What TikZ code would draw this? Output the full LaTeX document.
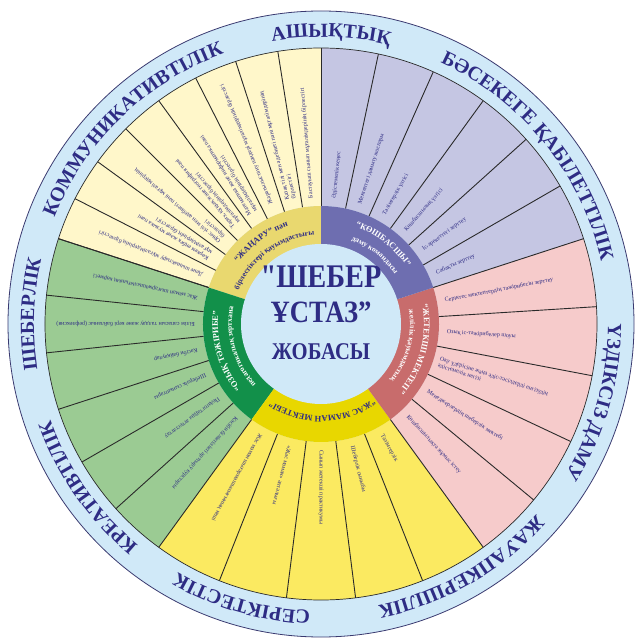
\documentclass[tikz,border=0pt]{standalone}
\usepackage{fontspec}
\setmainfont{Liberation Serif}
\newfontfamily\centfont{Liberation Serif}[Ligatures=TeXOff, FakeStretch=0.86]
\usetikzlibrary{decorations.text}
\definecolor{ringblue}{HTML}{D0E9F8}
\definecolor{txtblue}{HTML}{2E2C84}
\definecolor{creamc}{HTML}{FFF7CA}
\definecolor{greenc}{HTML}{9BCB93}
\definecolor{yellowc}{HTML}{FBEA61}
\definecolor{pinkc}{HTML}{F6CBCB}
\definecolor{purplec}{HTML}{C5C6E3}
\definecolor{goldr}{HTML}{E9D86F}
\definecolor{purpr}{HTML}{6E6EB0}
\definecolor{redr}{HTML}{C86C6C}
\definecolor{yelr}{HTML}{E8D700}
\definecolor{greenr}{HTML}{12904A}
\definecolor{lineblk}{HTML}{2A2A2A}
\definecolor{outl}{HTML}{3A3A70}
\newcommand\mywedge[4]{\fill[#1] (0,0) -- (#2:#4) arc[start angle=#2, end angle=#3, radius=#4] -- cycle;}
\newcommand\myband[5]{\fill[#1] (#2:#4) arc[start angle=#2, end angle=#3, radius=#4] -- (#3:#5) arc[start angle=#3, end angle=#2, radius=#5] -- cycle;}
\newcommand\arctext[6]{\path[decorate, decoration={text along path, text={|#5|#6}, text align=center, text color=#4}] (#1:#3) arc[start angle=#1, end angle=#2, radius=#3];}
\begin{document}
\begin{tikzpicture}[
  sepline/.style={draw=lineblk, line width=0.9pt},
  sectxt/.style={font=\fontsize{6}{6.8}\selectfont, text=txtblue, inner sep=0pt, anchor=west, align=left},
  centxt/.style={text=txtblue, inner sep=0pt},
]
\useasboundingbox (-321pt,-315pt) rectangle (314pt,324pt);
% outer ring
\fill[ringblue] (0,0) circle[radius=313pt];
\draw[outl, line width=0.8pt] (0,0) circle[radius=313pt];
% sector groups
\myband{creamc}{90}{162}{118pt}{276pt}
\myband{greenc}{162}{234}{118pt}{276pt}
\myband{yellowc}{234}{306}{118pt}{276pt}
\myband{pinkc}{-54}{18}{118pt}{276pt}
\myband{purplec}{18}{90}{118pt}{276pt}
\draw[lineblk, line width=0.7pt] (0,0) circle[radius=276pt];
% radial lines
\foreach \a in {90,99,...,162} \draw[sepline] (\a:118pt) -- (\a:276pt);
\foreach \a in {162,174,...,234} \draw[sepline] (\a:118pt) -- (\a:276pt);
\foreach \a in {248.4,262.8,277.2,291.6,306} \draw[sepline] (\a:118pt) -- (\a:276pt);
\foreach \a in {-39.6,-25.2,-10.8,3.6,18} \draw[sepline] (\a:118pt) -- (\a:276pt);
\foreach \a in {30,42,54,66,78} \draw[sepline] (\a:118pt) -- (\a:276pt);
% inner ring
\mywedge{goldr}{90}{162}{118pt}
\mywedge{greenr}{162}{234}{118pt}
\mywedge{yelr}{234}{306}{118pt}
\mywedge{redr}{-54}{18}{118pt}
\mywedge{purpr}{18}{90}{118pt}
\fill[ringblue] (0,0) circle[radius=80pt];
% inner ring labels
\arctext{160}{92}{103pt}{txtblue}{\bfseries\fontsize{8.5}{9}\selectfont}{“ЖАҢАРУ” пән}
\arctext{165}{87}{89pt}{txtblue}{\bfseries\fontsize{7.5}{8}\selectfont}{бірлестіктері қауымдастығы}
\arctext{88}{16}{103pt}{white}{\bfseries\fontsize{8.5}{9}\selectfont}{“КӨШБАСШЫ”}
\arctext{88}{16}{89pt}{white}{\bfseries\fontsize{7.5}{8}\selectfont}{даму командасы}
\arctext{22}{-52}{103pt}{white}{\bfseries\fontsize{8.5}{9}\selectfont}{“ЖЕТЕКШІ МЕКТЕП”}
\arctext{22}{-52}{89pt}{white}{\bfseries\fontsize{7.5}{8}\selectfont}{желілік қауымдастық}
\arctext{310}{232}{92pt}{txtblue}{\bfseries\fontsize{8.5}{9}\selectfont}{“ЖАС МАМАН МЕКТЕБІ”}
\arctext{234}{158}{103pt}{white}{\bfseries\fontsize{8.5}{9}\selectfont}{“ОЗЫҚ ТӘЖІРИБЕ”}
\arctext{234}{158}{89pt}{white}{\bfseries\fontsize{7.5}{8}\selectfont}{педагогикалық зертхана}
% center
\node[centxt, font=\centfont\bfseries\fontsize{33}{33}\selectfont] (t1) at (0pt,47pt) {"ШЕБЕР};
\node[centxt, font=\centfont\bfseries\fontsize{31}{31}\selectfont] (t2) at (0pt,12pt) {ҰСТАЗ”};
\node[centxt, font=\centfont\bfseries\fontsize{24}{24}\selectfont] (t3) at (0pt,-28pt) {ЖОБАСЫ};
% outer ring words
\arctext{133}{43}{287pt}{txtblue}{\bfseries\fontsize{20}{20}\selectfont}{АШЫҚТЫҚ}
\arctext{89}{-11}{287pt}{txtblue}{\bfseries\fontsize{20}{20}\selectfont}{БӘСЕКЕГЕ ҚАБІЛЕТТІЛІК}
\arctext{34}{-66}{287pt}{txtblue}{\bfseries\fontsize{20}{20}\selectfont}{ҮЗДІКСІЗ ДАМУ}
\arctext{-10}{-110}{287pt}{txtblue}{\bfseries\fontsize{20}{20}\selectfont}{ЖАУАПКЕРШІЛІК}
\arctext{299}{209}{287pt}{txtblue}{\bfseries\fontsize{20}{20}\selectfont}{СЕРІКТЕСТІК}
\arctext{260}{170}{287pt}{txtblue}{\bfseries\fontsize{20}{20}\selectfont}{КРЕАТИВТІЛІК}
\arctext{223}{133}{287pt}{txtblue}{\bfseries\fontsize{20}{20}\selectfont}{ШЕБЕРЛІК}
\arctext{184}{84}{287pt}{txtblue}{\bfseries\fontsize{20}{20}\selectfont}{КОММУНИКАТИВТІЛІК}
% cream sector texts
\node[sectxt, rotate=94.5] (c1) at (94.5:126pt) {Бастауыш сынып мұғалімдерінің бірлестігі};
\node[sectxt, rotate=103.5] (c2) at (103.5:128pt) {Қазақ тілі мен әдебиеті пәні мұғалімдерінің\\бірлестігі};
\node[sectxt, rotate=112.5] (c3) at (112.5:130pt) {Жаратылыстану пәндері мұғалімдерінің бірлестігі};
\node[sectxt, rotate=121.5] (c4) at (121.5:130pt) {Математика және информатика пәні\\мұғалімдерінің бірлестігі};
\node[sectxt, rotate=130.5] (c5) at (130.5:130pt) {Тарих, құқық және география пәні\\мұғалімдерінің бірлестігі};
\node[sectxt, rotate=139.5] (c6) at (139.5:130pt) {Орыс тілі мен әдебиеті пәні мұғалімдерінің\\бірлестігі};
\node[sectxt, rotate=148.5] (c7) at (148.5:130pt) {Көркем еңбек және музыка пәні\\мұғалімдерінің бірлестігі};
\node[sectxt, rotate=157.5] (c8) at (157.5:128pt) {Дене шынықтыру мұғалімдерінің бірлестігі};
% green sector texts
\node[sectxt, rotate=168] (g1) at (168:126pt) {Жас маман шығармашылығының көрмесі};
\node[sectxt, rotate=180] (g2) at (180:126pt) {Білім сапасын талдау және кері байланыс (рефлексия)};
\node[sectxt, rotate=192] (g3) at (192:126pt) {Кәсіби байқаулар};
\node[sectxt, rotate=204] (g4) at (204:126pt) {Шеберлік сыныптары};
\node[sectxt, rotate=216] (g5) at (216:126pt) {Педагогтарды аттестаттау};
\node[sectxt, rotate=228] (g6) at (228:126pt) {Кәсіби біліктілікті арттыру курстары};
% yellow sector texts
\node[sectxt, rotate=241.2] (y1) at (241.2:126pt) {Жас маман шығармашылығының кеші};
\node[sectxt, rotate=255.6] (y2) at (255.6:126pt) {«Жас маман» апталығы};
\node[sectxt, rotate=270] (y3) at (270:126pt) {Сынып жетекші практикумы};
\node[sectxt, rotate=284.4] (y4) at (284.4:126pt) {Шеберлік сыныбы};
\node[sectxt, rotate=298.8] (y5) at (298.8:126pt) {Тәлімгерлік};
% pink sector texts
\node[sectxt, rotate=10.8] (p1) at (10.8:126pt) {Серіктес мектептердің тәжірибесін зерттеу};
\node[sectxt, rotate=-3.6] (p2) at (-3.6:126pt) {Озық іс-тәжірибелер шоуы};
\node[sectxt, rotate=-18] (p3) at (-18:124pt) {Оқу үдерісіне жаңа әдіс-тәсілдерді енгізудің\\әдістемелік негізі};
\node[sectxt, rotate=-32.4] (p4) at (-32.4:126pt) {Менеджерлердің шеберлік мектебі};
\node[sectxt, rotate=-46.8] (p5) at (-46.8:126pt) {Көшбасшылықта жұмыс істеу};
% purple sector texts
\node[sectxt, rotate=84] (u1) at (84:126pt) {Әдістемелік кеңес};
\node[sectxt, rotate=72] (u2) at (72:126pt) {Мектептегі дамыту жоспары};
\node[sectxt, rotate=60] (u3) at (60:126pt) {Тәлімгерлік үлгісі};
\node[sectxt, rotate=48] (u4) at (48:126pt) {Көшбасшылық үлгісі};
\node[sectxt, rotate=36] (u5) at (36:126pt) {Іс-әрекеттегі зерттеу};
\node[sectxt, rotate=24] (u6) at (24:126pt) {Сабақты зерттеу};
\end{tikzpicture}
\end{document}
